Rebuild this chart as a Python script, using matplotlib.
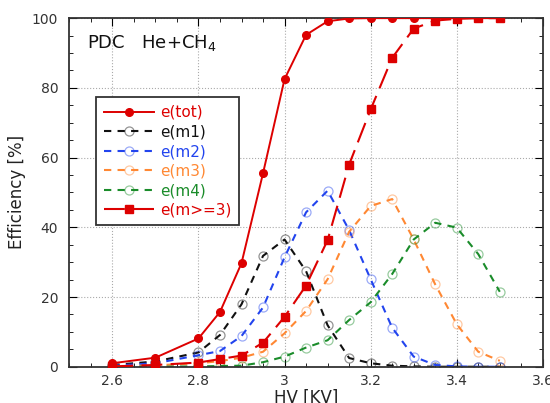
import numpy as np
import matplotlib
matplotlib.use("Agg")
import matplotlib.pyplot as plt
import matplotlib.ticker as ticker

# HV points [kV]
hv = [2.6, 2.7, 2.8, 2.85, 2.9, 2.95, 3.0, 3.05, 3.1, 3.15, 3.2, 3.25, 3.3, 3.35, 3.4, 3.45, 3.5]

# efficiencies [%]
e_tot = [1.0, 2.6, 8.1, 15.7, 29.7, 55.5, 82.5, 95.2, 99.1, 99.9, 100, 100, 100, 100, 100, 100, 100]
e_m1 = [0.5, 1.5, 4.1, 9.1, 17.9, 31.8, 36.5, 27.4, 11.9, 2.5, 1.0, 0.3, 0.1, 0.0, 0.0, 0.0, 0.0]
e_m2 = [0.3, 1.0, 3.3, 4.5, 8.8, 17.0, 31.4, 44.3, 50.5, 39.2, 25.1, 11.2, 2.9, 0.5, 0.1, 0.0, 0.0]
e_m3 = [0.1, 0.4, 1.0, 1.6, 2.6, 4.3, 9.6, 16.0, 25.1, 38.7, 46.1, 48.1, 36.5, 23.6, 12.2, 4.3, 1.7]
e_m4 = [0.0, 0.0, 0.1, 0.2, 0.3, 1.3, 2.9, 5.5, 7.6, 13.4, 18.5, 26.6, 36.5, 41.3, 39.9, 32.3, 21.5]
e_m3p = [0.1, 0.5, 1.2, 2.2, 3.2, 6.9, 14.3, 23.3, 36.3, 58.0, 73.8, 88.6, 97.0, 99.3, 99.8, 100, 100]

red = "#dd0000"
fig = plt.figure(figsize=(5.5, 4.03), dpi=100)
ax = fig.add_axes([0.126, 0.09, 0.861, 0.865])

ax.plot(hv, e_tot, color=red, lw=1.4, marker="o", ms=5.5, label="e(tot)", zorder=5)

dashed = [(e_m1, "#111111", "e(m1)"), (e_m2, "#2244ee", "e(m2)"),
          (e_m3, "#ff8833", "e(m3)"), (e_m4, "#1a8c2a", "e(m4)")]
for ys, c, lab in dashed:
    ax.plot(hv, ys, color=c, lw=1.5, dashes=(3.5, 3), marker="o", ms=6.5,
            mfc="none", mec=matplotlib.colors.to_rgba(c, 0.45), mew=0.9, label=lab)

ax.plot(hv, e_m3p, color=red, lw=1.5, dashes=(10, 4), marker="s", ms=6,
        label="e(m>=3)", zorder=6)

ax.set_xlim(2.5, 3.6)
ax.set_ylim(0, 100)
ax.xaxis.set_major_locator(ticker.MultipleLocator(0.2))
ax.xaxis.set_minor_locator(ticker.MultipleLocator(0.05))
ax.yaxis.set_major_locator(ticker.MultipleLocator(20))
ax.yaxis.set_minor_locator(ticker.MultipleLocator(5))
ax.xaxis.set_major_formatter(ticker.FormatStrFormatter("%g"))
ax.tick_params(which="both", direction="in", top=True, right=True, labelsize=10, labelcolor="#333333")
ax.tick_params(which="major", length=6)
ax.tick_params(axis="x", which="major", pad=5)
ax.tick_params(axis="y", which="major", pad=8)
ax.tick_params(which="minor", length=3)
ax.grid(True, which="major", ls=":", color="#aaaaaa", lw=0.8)
for s in ax.spines.values():
    s.set_linewidth(1.3)
    s.set_color("#333333")

ax.set_xlabel("HV [KV]", fontsize=12, color="#222222", labelpad=1)
ax.set_ylabel("Efficiency [%]", fontsize=12, color="#222222", labelpad=4)

ax.text(2.54, 93, "PDC   He+CH$_4$", fontsize=13, va="center", ha="left", color="#111111")

leg = ax.legend(loc="upper left", bbox_to_anchor=(0.04, 0.795), fontsize=11,
                frameon=True, fancybox=False, edgecolor="#333333", framealpha=1,
                handlelength=3.3, handletextpad=0.4, labelspacing=0.3, borderpad=0.5)
leg.get_frame().set_linewidth(1.3)
for txt, ln in zip(leg.get_texts(), leg.get_lines()):
    txt.set_color(ln.get_color())

fig.savefig("out.png", dpi=100)
